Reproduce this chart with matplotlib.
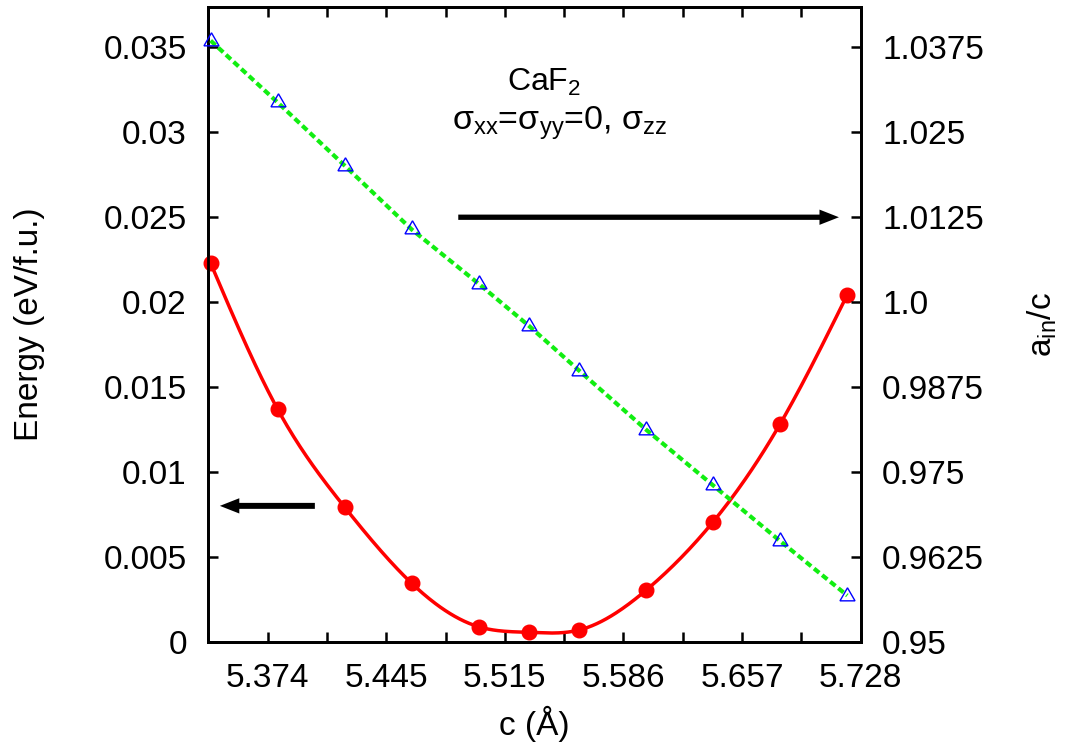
import numpy as np
import matplotlib
matplotlib.use("Agg")
import matplotlib.pyplot as plt

plt.rcParams['font.family'] = ['Liberation Sans', 'DejaVu Sans']
plt.rcParams['mathtext.fontset'] = 'custom'
plt.rcParams['mathtext.rm'] = 'Liberation Sans'
plt.rcParams['mathtext.it'] = 'Liberation Sans:italic'
plt.rcParams['mathtext.bf'] = 'Liberation Sans:bold'

# ---- data ----
c_vals = [5.34, 5.38, 5.42, 5.46, 5.50, 5.53, 5.56, 5.60, 5.64, 5.68, 5.72]
energy = [0.02229, 0.01369, 0.00792, 0.00344, 0.00088, 0.00055, 0.00069,
          0.00304, 0.00707, 0.01284, 0.02044]
ratio = [1.0385, 1.0294, 1.0201, 1.0107, 1.0027, 0.9965, 0.9899,
         0.9812, 0.9730, 0.9648, 0.9568]

x_lim = (5.3386, 5.728)
x_tick_labels = ['', '5.374', '', '5.445', '', '5.515', '', '5.586', '', '5.657', '', '5.728']
e_ticks = [0, 0.005, 0.01, 0.015, 0.02, 0.025, 0.03, 0.035]
e_tick_labels = ['0', '0.005', '0.01', '0.015', '0.02', '0.025', '0.03', '0.035']
r_ticks = [0.95, 0.9625, 0.975, 0.9875, 1.0, 1.0125, 1.025, 1.0375]
r_tick_labels = ['0.95', '0.9625', '0.975', '0.9875', '1.0', '1.0125', '1.025', '1.0375']
e_lim = (0, 0.0374)
r_lim = (0.95, 1.0435)


def natural_cubic_spline(x, y, xs):
    x = np.asarray(x, float)
    y = np.asarray(y, float)
    n = len(x)
    h = np.diff(x)
    A = np.zeros((n, n))
    b = np.zeros(n)
    A[0, 0] = 1.0
    A[-1, -1] = 1.0
    for i in range(1, n - 1):
        A[i, i - 1] = h[i - 1]
        A[i, i] = 2 * (h[i - 1] + h[i])
        A[i, i + 1] = h[i]
        b[i] = 3 * ((y[i + 1] - y[i]) / h[i] - (y[i] - y[i - 1]) / h[i - 1])
    c = np.linalg.solve(A, b)
    bb = (y[1:] - y[:-1]) / h - h * (2 * c[:-1] + c[1:]) / 3
    d = (c[1:] - c[:-1]) / (3 * h)
    idx = np.clip(np.searchsorted(x, xs) - 1, 0, n - 2)
    dx = xs - x[idx]
    return y[idx] + bb[idx] * dx + c[idx] * dx ** 2 + d[idx] * dx ** 3


fig = plt.figure(figsize=(10.69, 7.51), dpi=100)
ax = fig.add_axes([0.19486, 0.14554, 0.61029, 0.84554])
ax2 = ax.twinx()

# energy curve
xs = np.linspace(c_vals[0], c_vals[-1], 400)
ax.plot(xs, natural_cubic_spline(c_vals, energy, xs), color='#ff0000', lw=2.5, zorder=3)
ax.plot(c_vals, energy, 'o', color='#ff0000', ms=10.5, zorder=4, clip_on=False)

# ratio line
ax2.plot(c_vals, ratio, color='#11ee11', lw=3, dashes=(1.6, 0.9), zorder=3)
ax2.plot(c_vals, ratio, linestyle='none', marker=(3, 0, 0), ms=12.5,
         mfc='none', mec='#0000ff', mew=1.0, zorder=4, clip_on=False)

ax.set_xlim(*x_lim)
ax.set_ylim(*e_lim)
ax2.set_ylim(*r_lim)

ax.set_xticks(np.linspace(x_lim[0], x_lim[1], len(x_tick_labels)))
ax.set_xticklabels(x_tick_labels)
ax.set_yticks(e_ticks)
ax.set_yticklabels(e_tick_labels)
ax2.set_yticks(r_ticks)
ax2.set_yticklabels(r_tick_labels)

for a in (ax, ax2):
    for s in a.spines.values():
        s.set_linewidth(2.0)
ax.tick_params(axis='both', direction='in', length=7.2, width=1.8, labelsize=24, pad=15.5)
ax.tick_params(axis='x', top=True, pad=15)
ax.tick_params(axis='y', right=False)
ax2.tick_params(axis='y', direction='in', length=7.2, width=1.8, labelsize=24, pad=15.5)

ax.set_xlabel('c (Å)', fontsize=24, va='baseline')
ax.xaxis.set_label_coords(0.4992, -0.147)
ax.set_ylabel('Energy (eV/f.u.)', fontsize=24, va='baseline')
ax.yaxis.set_label_coords(-0.2605, 0.5)
ax2.set_ylabel(r'a$_{\mathrm{in}}$/c', fontsize=24, va='baseline')
ax2.yaxis.set_label_coords(1.2920, 0.5)

ax.text(0.5146, 0.8672, r'CaF$_{2}$', transform=ax.transAxes, fontsize=23,
        ha='center', va='baseline')
ax.text(0.5385, 0.8058, r'σ$_{\mathrm{xx}}$=σ$_{\mathrm{yy}}$=0, σ$_{\mathrm{zz}}$',
        transform=ax.transAxes, fontsize=24.5, ha='center', va='baseline')

# arrows
arrow_left = dict(start=(5.4022, 0.0080), end=(5.3455, 0.0080))
arrow_right = dict(start=(5.4878, 1.0125), end=(5.7150, 1.0125))
ax.annotate('', xy=arrow_left['end'], xytext=arrow_left['start'],
            arrowprops=dict(arrowstyle='simple,head_length=14,head_width=11,tail_width=4.3',
                            mutation_scale=1, color='black', lw=0, shrinkA=0, shrinkB=0))
ax2.annotate('', xy=arrow_right['end'], xytext=arrow_right['start'],
             arrowprops=dict(arrowstyle='simple,head_length=14,head_width=11,tail_width=3.8',
                             mutation_scale=1, color='black', lw=0, shrinkA=0, shrinkB=0))

fig.savefig('out.png', dpi=100)
